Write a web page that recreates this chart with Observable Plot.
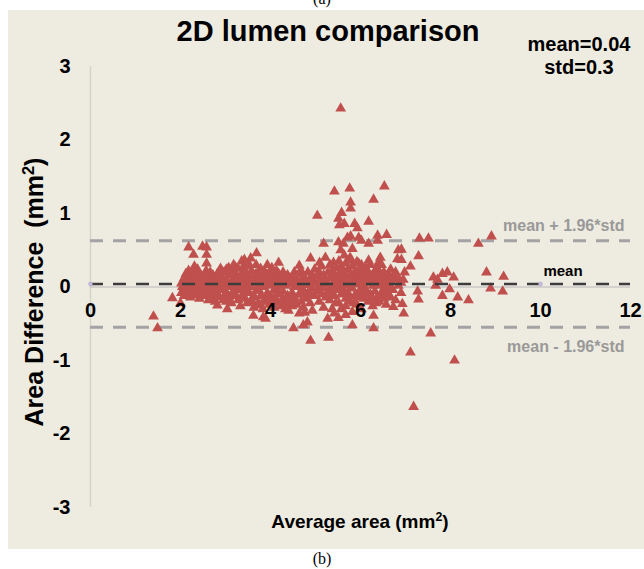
<!DOCTYPE html>
<html>
<head>
<meta charset="utf-8">
<script src="https://cdn.jsdelivr.net/npm/d3@7"></script>
<script src="https://cdn.jsdelivr.net/npm/@observablehq/plot@0.6"></script>
<style>
  html, body { margin: 0; padding: 0; background: #ffffff; }
  #wrap { position: relative; width: 644px; height: 569px; overflow: hidden; background: #ffffff;
          font-family: "Liberation Sans", Arial, sans-serif; }
  #panel { position: absolute; left: 8px; top: 10px; width: 636px; height: 539px; background: #EEEBE0; }
  .cap { position: absolute; left: 0; width: 644px; text-align: center; font-family: "Liberation Serif", "Times New Roman", serif; font-size: 16px; color: #000; }
  #capA { top: -10px; }
  #capB { top: 550px; }
  #title { position: absolute; left: 128px; width: 400px; top: 15px; text-align: center; font-weight: bold; font-size: 29px; color: #000; }
  #stats { position: absolute; left: 519px; width: 120px; top: 33px; text-align: center; font-weight: bold; font-size: 20px; line-height: 23px; color: #000; }
  #ylab { position: absolute; left: 34px; top: 292px; transform: translate(-50%, -50%) rotate(-90deg); white-space: nowrap; font-weight: bold; font-size: 25px; color: #000; }
  #xlab { position: absolute; left: 160px; width: 400px; top: 511px; text-align: center; font-weight: bold; font-size: 19px; color: #000; }
  sup { font-size: 0.65em; vertical-align: 0.55em; line-height: 0; }
  #chart { position: absolute; left: 0; top: 0; }
  #chart svg { background: transparent !important; }
</style>
</head>
<body>
<div id="wrap">
  <div class="cap" id="capA">(a)</div>
  <div id="panel"></div>
  <div id="title"></div>
  <div id="stats"></div>
  <div id="ylab"></div>
  <div id="xlab"></div>
  <div id="chart"></div>
  <div class="cap" id="capB">(b)</div>
</div>
<script>
// ---- texts ----
const titleText = "2D lumen comparison";
const xTitle = "Average area (mm<sup>2</sup>)";
const yTitle = "Area Difference&nbsp;&nbsp;(mm<sup>2</sup>)";

// ---- summary statistics ----
const meanValue = 0.04;
const stdValue = 0.3;
const limitFactor = 1.96;

// ---- axis ticks ----
const xTicks = [0, 2, 4, 6, 8, 10, 12];
const yTicks = [-3, -2, -1, 0, 1, 2, 3];
const meanMarkers = [0, 10];

// ---- scattered points read individually: [average area, area difference] ----
const scatteredPoints = [
  [5.56,2.43],[5.42,1.30],[5.76,1.34],[6.53,1.37],[6.29,1.19],[5.78,1.15],[5.78,1.07],[5.58,1.01],
  [5.04,0.97],[5.51,0.93],[6.18,0.89],[5.53,0.84],[5.64,0.86],[5.87,0.86],[5.93,0.80],[6.38,0.70],
  [6.58,0.71],[6.38,0.63],[5.18,0.59],[5.71,0.67],[5.78,0.69],[5.96,0.67],[5.62,0.59],[5.51,0.61],
  [6.18,0.59],[6.02,0.63],[5.56,0.50],[5.82,0.52],[5.64,0.43],[5.78,0.36],[5.96,0.32],[6.18,0.36],
  [6.40,0.33],[6.44,0.40],[6.82,0.38],[6.84,0.50],[4.89,0.39],[5.09,0.33],[5.22,0.40],[5.40,0.33],
  [4.18,0.33],[4.64,0.29],[3.69,0.46],[3.56,0.39],[3.42,0.37],[3.36,0.35],[2.18,0.54],[2.29,0.44],
  [2.49,0.55],[2.58,0.54],[2.58,0.44],[2.31,0.28],[2.58,0.32],[2.89,0.25],[3.07,0.26],[3.22,0.27],
  [3.38,0.26],
  [7.31,0.66],[7.51,0.66],[8.62,0.59],[8.91,0.69],[6.91,0.51],[7.29,0.42],[6.91,0.37],[7.11,0.28],
  [6.98,0.20],[8.80,0.20],[9.18,0.14],[7.62,0.13],[7.71,0.10],[7.82,0.18],[7.93,0.20],[8.07,0.13],
  [7.67,0.02],[7.98,-0.03],[7.82,-0.12],[8.16,-0.14],[8.40,-0.18],[8.89,-0.02],[9.16,-0.06],
  [7.27,-0.06],[7.29,-0.17],[7.56,-0.63],[7.11,-0.89],[8.09,-1.00],[7.18,-1.63],
  [6.93,-0.23],[6.73,-0.27],[6.96,-0.36],[6.29,-0.39],[6.29,-0.56],[5.82,-0.52],[1.40,-0.40],
  [1.49,-0.56],[1.82,-0.15],[2.00,-0.22],[2.04,0.00],[4.51,-0.56],[4.82,-0.48],[4.89,-0.73],
  [5.29,-0.69],[5.27,-0.43],[3.04,-0.30],[2.82,-0.25],[3.62,-0.39],[3.84,-0.41],[3.89,-0.43],
  [4.64,-0.36],[4.76,-0.35],[4.73,-0.52],[5.51,-0.42],[5.67,-0.38],[4.40,-0.32],[4.33,-0.21],
  [4.15,-0.21],[3.98,-0.21],[3.78,-0.25]
];

// ---- dense cluster, read column by column: [average area, [area differences]] ----
const clusterColumns = [
  [2.02,[0.05,-0.08]],[2.08,[0.12,-0.02,-0.12]],[2.12,[0.18,0.02,-0.10]],[2.18,[0.08,-0.05,0.22]],
  [2.22,[0.14,-0.14,0.00]],[2.28,[0.10,-0.06,0.20]],[2.33,[0.03,-0.11,0.16]],[2.38,[0.12,-0.02,0.24]],
  [2.42,[0.07,-0.16,0.18]],[2.47,[0.00,0.12,-0.08]],[2.52,[0.15,-0.05,0.05]],[2.57,[0.22,-0.12,0.08]],
  [2.62,[0.02,0.14,-0.18]],[2.66,[0.10,-0.06,0.20]],[2.72,[0.05,-0.15,0.16]],[2.77,[0.12,-0.02,-0.20]],
  [2.82,[0.18,0.04,-0.10]],[2.87,[0.08,-0.14,0.22]],[2.92,[0.14,-0.04,0.02]],[2.97,[0.20,-0.12,0.06]],
  [3.02,[0.10,-0.08,0.24,-0.20]],[3.08,[0.16,0.00,-0.14]],[3.13,[0.05,0.22,-0.22]],[3.18,[0.12,-0.05,0.30]],
  [3.23,[0.18,-0.12,0.02]],[3.28,[0.08,-0.18,0.25]],[3.33,[0.14,-0.02,-0.26]],[3.38,[0.20,0.04,-0.10]],
  [3.43,[0.10,-0.15,0.28]],[3.48,[0.02,0.16,-0.22]],[3.53,[0.12,-0.08,0.30]],[3.58,[0.22,-0.18,0.05]],
  [3.63,[0.08,-0.28,0.15]],[3.68,[0.18,-0.05,0.30]],[3.73,[0.02,-0.22,0.12]],[3.78,[0.25,-0.12,0.08]],
  [3.83,[0.14,-0.30,0.00]],[3.88,[0.06,0.20,-0.16]],[3.93,[0.30,-0.08,0.12]],[3.98,[0.10,-0.24,0.20]],
  [4.03,[0.04,-0.14,0.26]],[4.08,[0.16,-0.04,-0.28]],[4.13,[0.22,0.00,-0.18]],[4.18,[0.08,-0.10,0.18]],
  [4.23,[0.14,-0.26,0.03]],[4.28,[0.20,-0.06,-0.16]],[4.33,[0.10,-0.30,0.02]],[4.38,[0.16,-0.12,0.06]],
  [4.43,[0.04,-0.20,0.12]],[4.48,[0.12,-0.08,-0.26]],[4.53,[0.20,0.00,-0.14]],[4.58,[0.06,-0.24,0.10]],
  [4.63,[0.00,-0.10,0.18]],[4.68,[0.08,-0.20,0.22]],[4.73,[-0.04,0.14,-0.28]],[4.78,[0.10,-0.16]],
  [4.83,[0.03,0.20,-0.08]],[4.88,[0.12,-0.22]],[4.93,[-0.02,0.16,-0.32]],[4.98,[0.06,-0.12,0.24]],
  [5.03,[0.14,-0.04]],[5.08,[0.02,-0.20,0.20]],[5.13,[0.10,-0.10,0.28]],[5.18,[-0.02,0.16,-0.28]],
  [5.23,[0.08,-0.14]],[5.28,[0.20,-0.06,0.04]],
  [5.32,[0.12,-0.18,0.30,-0.06]],[5.37,[0.00,0.22,-0.30]],[5.42,[0.08,-0.12,0.18,-0.36]],
  [5.47,[0.26,-0.04,0.10]],[5.52,[0.02,-0.22,0.16,0.35]],[5.57,[0.12,-0.10,0.28,-0.30]],
  [5.62,[-0.04,0.20,0.06]],[5.67,[0.14,-0.16,0.32,-0.26]],[5.72,[0.04,0.24,-0.08]],
  [5.77,[0.18,-0.20,0.10,0.40]],[5.82,[-0.02,0.28,-0.34]],[5.87,[0.10,-0.12,0.20]],
  [5.92,[0.04,0.34,-0.24]],[5.97,[0.16,-0.06,0.24]],[6.02,[-0.10,0.08,0.30,-0.30]],
  [6.07,[0.20,-0.16,0.02]],[6.12,[0.12,-0.04,0.26]],[6.17,[-0.20,0.06,0.18]],[6.22,[0.10,-0.10,0.30]],
  [6.27,[0.02,-0.26,0.16]],[6.32,[0.22,-0.06,0.08]],[6.37,[-0.14,0.12,0.26]],[6.42,[0.04,-0.20,0.18]],
  [6.47,[0.14,-0.08,0.30]],[6.52,[-0.02,0.20,-0.16]],[6.57,[0.10,-0.24,0.06]],[6.62,[0.18,-0.10,0.02]],
  [6.67,[0.08,-0.14,0.24]],[6.72,[-0.04,0.14]],[6.78,[0.10,-0.18,0.20]],[6.84,[0.02,0.12]],
  [6.90,[-0.08,0.06]],[6.95,[0.10]],
  // second pass over the densest part of the cluster
  [2.15,[-0.03,0.10]],[2.25,[0.04,-0.09]],[2.35,[-0.06,0.09]],[2.45,[0.03,-0.12]],[2.55,[-0.02,0.11]],
  [2.65,[0.06,-0.12]],[2.75,[-0.08,0.08]],[2.85,[-0.04,0.12]],[2.95,[0.09,-0.18]],[3.05,[0.05,-0.12]],
  [3.15,[-0.10,0.16]],[3.25,[-0.04,0.10]],[3.35,[0.08,-0.16]],[3.45,[-0.06,0.20]],[3.55,[0.00,-0.20]],
  [3.65,[-0.14,0.10]],[3.75,[-0.05,0.18]],[3.85,[-0.20,0.08]],[3.95,[0.02,-0.16]],[4.05,[-0.22,0.12]],
  [4.15,[-0.08,0.10]],[4.25,[-0.18,0.08]],[4.35,[-0.22,0.14]],[4.45,[-0.12,0.06]],[4.55,[-0.20,0.08]],
  [4.70,[-0.10,0.04]],[4.90,[0.06,-0.12]],[5.10,[-0.06,0.10]],[5.35,[-0.12,0.14]],[5.45,[0.04,-0.22]],
  [5.55,[-0.04,0.20]],[5.65,[0.02,-0.08]],[5.75,[-0.12,0.14]],[5.85,[0.04,-0.22]],[5.95,[-0.14,0.10]],
  [6.05,[-0.04,0.12]],[6.15,[-0.10,0.22]],[6.25,[-0.16,0.06]],[6.35,[0.02,-0.22]],[6.45,[-0.12,0.06]],
  [6.55,[-0.10,0.14]],[6.65,[-0.04,0.12]]
];

// ---- build table ----
const points = scatteredPoints.map(([avg, diff]) => ({avg, diff}))
  .concat(clusterColumns.flatMap(([avg, diffs]) => diffs.map(diff => ({avg, diff}))));

const upperLimit = [{label: "mean + 1.96*std", value: meanValue + limitFactor * stdValue}];
const lowerLimit = [{label: "mean - 1.96*std", value: meanValue - limitFactor * stdValue}];
const meanLine = [{label: "mean", value: meanValue}];

document.getElementById("title").textContent = titleText;
document.getElementById("stats").innerHTML = `mean=${meanValue}<br>std=${stdValue}`;
document.getElementById("xlab").innerHTML = xTitle;
document.getElementById("ylab").innerHTML = yTitle;

const font = "'Liberation Sans', Arial, sans-serif";
const limitStyle = {y: "value", stroke: "#a3a3a3", strokeWidth: 3, strokeDasharray: "13,10"};
const limitText = {x: 12, y: "value", text: "label", textAnchor: "end", dx: -6, fontSize: 16, fontWeight: "bold", fill: "#999999"};
const chart = Plot.plot({
  width: 644,
  height: 569,
  marginLeft: 90,
  marginRight: 14,
  marginTop: 66,
  marginBottom: 62,
  style: {background: "transparent", fontFamily: font, overflow: "visible"},
  x: {domain: [0, 12], axis: null},
  y: {domain: [-3, 3], axis: null},
  marks: [
    Plot.ruleX([0], {y1: -3, y2: 3, stroke: "#d6d3ca", strokeWidth: 1.5}),
    Plot.ruleY([0], {stroke: "#c9c9c9", strokeWidth: 1.5}),
    Plot.ruleY(upperLimit, limitStyle),
    Plot.ruleY(lowerLimit, limitStyle),
    Plot.dot(points, {x: "avg", y: "diff", symbol: "triangle", r: 4, fill: "#C0504D", stroke: "none"}),
    Plot.ruleY(meanLine, {y: "value", stroke: "#3c3c3c", strokeWidth: 2.5, strokeDasharray: "13,10"}),
    Plot.dot(meanMarkers, {x: d => d, y: meanValue, r: 2, fill: "#c7bde0", stroke: "#a99fca", strokeWidth: 0.5}),
    Plot.axisY(yTicks, {anchor: "left", tickSize: 0, tickPadding: 20, fontSize: 20, fontWeight: "bold",
      label: null, fill: "#000", tickFormat: d => String(d)}),
    Plot.text(xTicks, {x: d => d, y: 0, dy: 24, text: d => String(d), fontSize: 20, fontWeight: "bold", fill: "#000"}),
    Plot.text(upperLimit, {...limitText, dy: -15}),
    Plot.text(lowerLimit, {...limitText, dy: 20}),
    Plot.text(meanLine, {x: 10.5, y: "value", text: "label", dy: -13, fontSize: 15, fontWeight: "bold", fill: "#000"})
  ]
});
document.getElementById("chart").appendChild(chart);
</script>
</body>
</html>
